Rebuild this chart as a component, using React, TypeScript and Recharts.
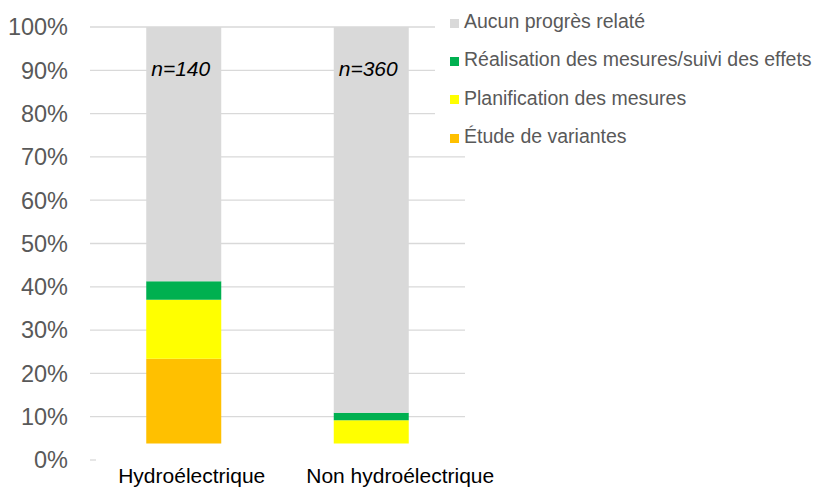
import React from 'react';
import { BarChart, Bar, XAxis, YAxis, CartesianGrid, Legend, LabelList } from 'recharts';

const categories = ['Hydroélectrique', 'Non hydroélectrique'];
const baseOffset = [3.8, 3.8];
const etudeVariantes = [19.6, 0];
const planification = [13.6, 5.4];
const realisation = [4.3, 1.7];
const aucunProgres = [58.7, 89.1];
const sampleLabels = ['n=140', 'n=360'];
const yTicks = [0, 10, 20, 30, 40, 50, 60, 70, 80, 90, 100];

const seriesNames: Record<string, string> = {
  etude: 'Étude de variantes',
  planification: 'Planification des mesures',
  realisation: 'Réalisation des mesures/suivi des effets',
  aucun: 'Aucun progrès relaté',
};
const legendOrder = ['aucun', 'realisation', 'planification', 'etude'];

const data = categories.map((c, i) => ({
  category: c,
  base: baseOffset[i],
  etude: etudeVariantes[i],
  planification: planification[i],
  realisation: realisation[i],
  aucun: aucunProgres[i],
  n: sampleLabels[i],
}));

const FONT = '"Liberation Sans", Arial, sans-serif';

const renderLegend = (props: any) => {
  const payload = (props.payload || []) as any[];
  const items = legendOrder
    .map((k) => payload.find((p) => p.dataKey === k))
    .filter(Boolean) as any[];
  return (
    <div style={{ position: 'relative', width: 387, height: 152, background: '#fff', fontFamily: FONT }}>
      {items.map((it: any, i: number) => (
        <div
          key={String(it.dataKey)}
          style={{
            position: 'absolute',
            left: 15,
            top: 21 + 38.4 * i - 15,
            height: 30,
            display: 'flex',
            alignItems: 'center',
            whiteSpace: 'nowrap',
          }}
        >
          <span style={{ width: 9, height: 9, background: it.color, marginTop: 4, marginRight: 5, flex: 'none', display: 'inline-block' }} />
          <span style={{ fontSize: 19.5, color: '#595959', lineHeight: '30px' }}>{it.value}</span>
        </div>
      ))}
    </div>
  );
};

const gridLine = (p: any) => {
  const bottom = p.y + p.height;
  const isZero = Math.abs(p.y1 - bottom) < 0.5;
  return (
    <line
      key={p.key}
      x1={p.x1}
      y1={p.y1}
      x2={isZero ? p.x1 + 6 : p.x2}
      y2={p.y2}
      stroke="#d9d9d9"
      strokeWidth={1.3}
      fill="none"
    />
  );
};

const renderN = (props: any) => {
  const { x, y, width, value } = props;
  return (
    <text
      x={Number(x) + Number(width) / 2 - 3}
      y={Number(y) + 41.5}
      textAnchor="middle"
      dominantBaseline="central"
      fontStyle="italic"
      fontSize={21}
      fill="#000"
      fontFamily={FONT}
    >
      {value}
    </text>
  );
};

const CategoryTick = (props: any) => {
  const { x, y, payload, index } = props;
  const shift = 8 + 21 * (index || 0);
  return (
    <text x={Number(x) + shift} y={Number(y)} dy="0.71em" textAnchor="middle" fill="#000" fontSize={21} fontFamily={FONT}>
      {payload.value}
    </text>
  );
};

export default function App() {
  return (
    <div style={{ position: 'absolute', left: 0, top: 0, background: '#fff' }}>
      <BarChart
        width={822}
        height={489}
        data={data}
        margin={{ top: 27, right: 357, bottom: 0, left: 0 }}
        barCategoryGap="30%"
        style={{ fontFamily: FONT }}
      >
        <CartesianGrid vertical={false} horizontal={gridLine} />
        <XAxis
          dataKey="category"
          axisLine={false}
          tickLine={false}
          height={29}
          interval={0}
          tick={<CategoryTick />}
        />
        <YAxis
          domain={[0, 100]}
          ticks={yTicks}
          tickFormatter={(v: number) => `${v}%`}
          axisLine={false}
          tickLine={false}
          tickMargin={16}
          width={90}
          tick={{ fill: '#595959', fontSize: 23.5 }}
        />
        <Legend
          layout="horizontal"
          verticalAlign="middle"
          align="center"
          content={renderLegend}
          wrapperStyle={{ top: 0, left: 435, width: 387, height: 152 }}
        />
        <Bar dataKey="base" stackId="a" fill="#ffffff" fillOpacity={0} legendType="none" isAnimationActive={false} />
        <Bar dataKey="etude" name={seriesNames.etude} stackId="a" fill="#FFC000" isAnimationActive={false} />
        <Bar dataKey="planification" name={seriesNames.planification} stackId="a" fill="#FFFF00" isAnimationActive={false} />
        <Bar dataKey="realisation" name={seriesNames.realisation} stackId="a" fill="#00B050" isAnimationActive={false} />
        <Bar dataKey="aucun" name={seriesNames.aucun} stackId="a" fill="#D9D9D9" isAnimationActive={false}>
          <LabelList dataKey="n" content={renderN} />
        </Bar>
      </BarChart>
    </div>
  );
}
